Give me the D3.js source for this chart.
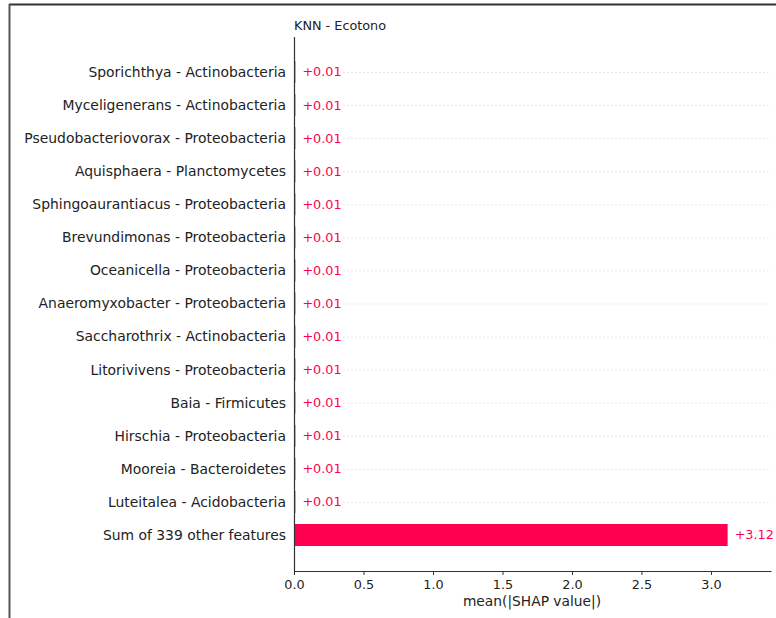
<!DOCTYPE html>
<html>
<head>
<meta charset="utf-8">
<script src="https://cdn.jsdelivr.net/npm/d3@7"></script>
<style>
  body { margin: 0; background: #fff; }
  svg { display: block; font-family: "DejaVu Sans", sans-serif; }
</style>
</head>
<body>
<div id="chart"></div>
<script>
// feature names, top to bottom
let features = [
  "Sporichthya - Actinobacteria",
  "Myceligenerans - Actinobacteria",
  "Pseudobacteriovorax - Proteobacteria",
  "Aquisphaera - Planctomycetes",
  "Sphingoaurantiacus - Proteobacteria",
  "Brevundimonas - Proteobacteria",
  "Oceanicella - Proteobacteria",
  "Anaeromyxobacter - Proteobacteria",
  "Saccharothrix - Actinobacteria",
  "Litorivivens - Proteobacteria",
  "Baia - Firmicutes",
  "Hirschia - Proteobacteria",
  "Mooreia - Bacteroidetes",
  "Luteitalea - Acidobacteria",
  "Sum of 339 other features"
];
// mean(|SHAP value|)
let values = [0.01, 0.01, 0.01, 0.01, 0.01, 0.01, 0.01, 0.01, 0.01, 0.01, 0.01, 0.01, 0.01, 0.01, 3.12];
let xTicks = [0, 0.5, 1.0, 1.5, 2.0, 2.5, 3.0];

let width = 776, height = 618;
let red = "#ff0051";

let svg = d3.select("#chart").append("svg")
  .attr("width", width)
  .attr("height", height);

// frame (top and left edge of the screenshot)
svg.append("line").attr("x1", 9).attr("x2", width).attr("y1", 4.5).attr("y2", 4.5)
  .style("stroke", "#333").style("stroke-width", 2);
svg.append("line").attr("x1", 9.5).attr("x2", 9.5).attr("y1", 4).attr("y2", height)
  .style("stroke", "#555").style("stroke-width", 2);

// scales
let x = d3.scaleLinear().domain([0, 3.432]).range([294, 771]);
let y = d3.scalePoint().domain(d3.range(features.length)).range([72, 535]);
let barH = 22;

// dotted guide lines
svg.selectAll(".guide")
  .data(features.slice(0, features.length - 1))
  .enter()
  .append("line")
  .attr("class", "guide")
  .attr("x1", (d, i) => x(values[i]) + 48)
  .attr("x2", 771)
  .attr("y1", (d, i) => y(i) + 0.5)
  .attr("y2", (d, i) => y(i) + 0.5)
  .style("stroke", "#d0d0d0")
  .style("stroke-width", 1)
  .style("stroke-dasharray", "1,3");

// bars
svg.selectAll(".bar")
  .data(values)
  .enter()
  .append("rect")
  .attr("class", "bar")
  .attr("x", x(0))
  .attr("y", (d, i) => y(i) - barH / 2)
  .attr("width", d => Math.max(1.4, x(d) - x(0)))
  .attr("height", barH)
  .style("fill", red);

// value labels
svg.selectAll(".val")
  .data(values)
  .enter()
  .append("text")
  .attr("class", "val")
  .attr("x", d => x(d) + 7)
  .attr("y", (d, i) => y(i))
  .attr("dy", "0.35em")
  .style("font-size", "12.8px")
  .style("fill", red)
  .text(d => "+" + d.toFixed(2));

// feature labels
svg.selectAll(".feat")
  .data(features)
  .enter()
  .append("text")
  .attr("class", "feat")
  .attr("x", 286)
  .attr("y", (d, i) => y(i))
  .attr("dy", "0.35em")
  .attr("text-anchor", "end")
  .style("font-size", "13.9px")
  .style("fill", "#222")
  .text(d => d);

// left spine
svg.append("line").attr("x1", 294.5).attr("x2", 294.5).attr("y1", 37).attr("y2", 571)
  .style("stroke", "#333").style("stroke-width", 1.2);

// x axis
let xAxis = svg.append("g")
  .attr("transform", "translate(0,571)")
  .call(d3.axisBottom(x).tickValues(xTicks).tickFormat(d3.format(".1f")).tickSize(4).tickSizeOuter(0));
xAxis.select(".domain").style("stroke", "#333").style("stroke-width", 1.2);
xAxis.selectAll(".tick line").style("stroke", "#333");
xAxis.selectAll(".tick text")
  .style("font-size", "12.8px")
  .style("font-family", "DejaVu Sans, sans-serif")
  .style("fill", "#222")
  .attr("dy", "0.85em");

svg.append("text")
  .attr("x", 532)
  .attr("y", 606)
  .attr("text-anchor", "middle")
  .style("font-size", "13.8px")
  .style("fill", "#222")
  .text("mean(|SHAP value|)");

// title
svg.append("text")
  .attr("x", 294)
  .attr("y", 30)
  .style("font-size", "12.8px")
  .style("fill", "#222")
  .text("KNN - Ecotono");
</script>
</body>
</html>
